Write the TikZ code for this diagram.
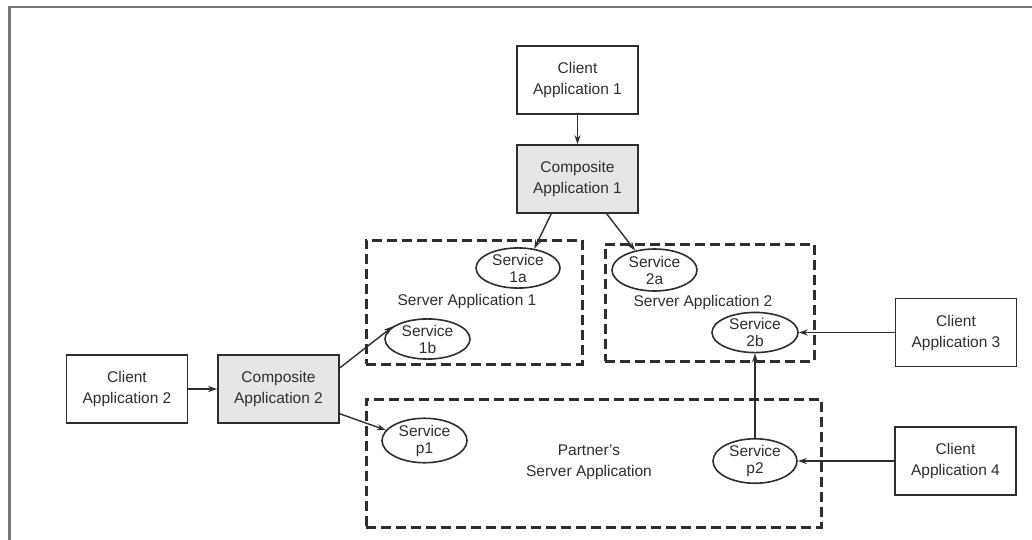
\documentclass[tikz,border=0pt]{standalone}
\usepackage{fontspec}
\setmainfont{Liberation Sans}
\usetikzlibrary{shapes.geometric,arrows.meta}
\definecolor{ink}{HTML}{2E2E2E}
\definecolor{framegray}{HTML}{777777}
\definecolor{compfill}{HTML}{E6E6E6}
\begin{document}
\begin{tikzpicture}[x=1pt,y=-1pt,
  font=\fontsize{15.5}{21}\selectfont,
  appbox/.style={draw=ink, line width=1.6pt, minimum width=121pt, minimum height=68pt, align=center, text=ink, inner sep=0pt},
  compbox/.style={appbox, fill=compfill},
  svc/.style={ellipse, draw=ink, line width=1.6pt, minimum width=85pt, minimum height=40pt, inner sep=0pt, align=center, text=ink, font=\fontsize{15.5}{17}\selectfont},
  container/.style={draw=ink, dash pattern=on 10pt off 5pt, line width=3pt, inner sep=0pt},
  lbl/.style={text=ink, align=center, inner sep=0pt},
  arr/.style={draw=ink, line width=1.4pt, -{Stealth[length=9pt,width=6pt]}}]
\useasboundingbox (0,0) rectangle (1032,540);
\draw[framegray, line width=2.2pt] (9.5,540) -- (9.5,7) -- (1032,7);

% containers
\node[container, minimum width=216pt, minimum height=124pt] (sa1) at (474,302) {};
\node[container, minimum width=209pt, minimum height=117pt] (sa2) at (709.5,302.5) {};
\node[container, minimum width=455pt, minimum height=128pt] (psa) at (593.5,463) {};
\node[lbl] (lsa1) at (467,301) {Server Application 1};
\node[lbl] (lsa2) at (703,302) {Server Application 2};
\node[lbl] (lpsa) at (589,462) {Partner's\\Server Application};

% boxes
\node[appbox] (cl1) at (577.5,80) {Client\\Application 1};
\node[compbox] (c1) at (577.5,179) {Composite\\Application 1};
\node[appbox] (cl2) at (127,389) {Client\\Application 2};
\node[compbox] (c2) at (278.5,389) {Composite\\Application 2};
\node[appbox] (cl3) at (956,332.5) {Client\\Application 3};
\node[appbox] (cl4) at (955.5,461) {Client\\Application 4};

% services
\node[svc, minimum width=84pt] (s1a) at (518,268) {Service\\1a};
\node[svc] (s1b) at (427.5,339) {Service\\1b};
\node[svc, minimum height=42pt] (s2a) at (654.5,270) {Service\\2a};
\node[svc, minimum width=86pt, minimum height=38pt] (s2b) at (755,332.5) {Service\\2b};
\node[svc, minimum height=41pt] (sp1) at (424.5,440.5) {Service\\p1};
\node[svc, minimum width=84pt, minimum height=42pt] (sp2) at (755,461) {Service\\p2};

% connectors
\draw[arr] (cl1.south) -- (c1.north);
\draw[arr] (c1.233) -- (s1a.50);
\draw[arr] (c1.310) -- (s2a.135);
\draw[arr] (cl2.east) -- (c2.west);
\draw[arr] (c2.19) -- (s1b.160);
\draw[arr] (c2.-22) -- (sp1.165);
\draw[arr] (cl3.west) -- (s2b.east);
\draw[arr] (cl4.west) -- (sp2.east);
\draw[arr] (sp2.north) -- (s2b.south);
\end{tikzpicture}
\end{document}
